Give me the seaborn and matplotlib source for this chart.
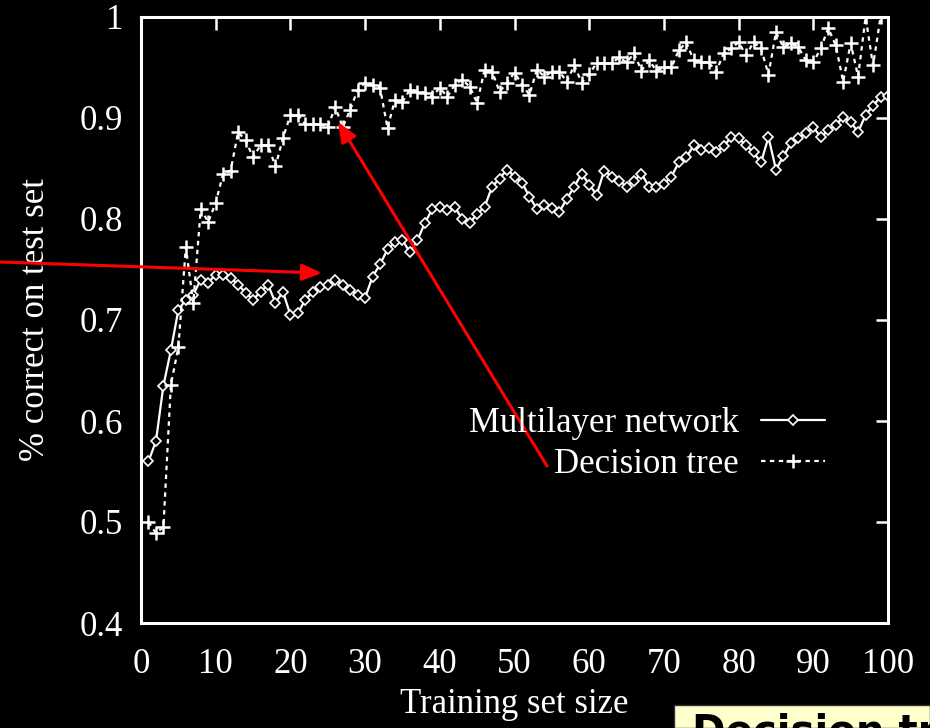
import numpy as np
import pandas as pd
import matplotlib
matplotlib.use("Agg")
import matplotlib.pyplot as plt
from matplotlib.patches import Rectangle
import seaborn as sns

# ---- data ----
sizes = list(range(1, 101))
mlp = [0.56, 0.58, 0.635, 0.67, 0.71, 0.72, 0.725, 0.74, 0.737, 0.745,
       0.745, 0.742, 0.735, 0.727, 0.72, 0.728, 0.735, 0.717, 0.728, 0.705,
       0.707, 0.72, 0.728, 0.733, 0.735, 0.74, 0.735, 0.73, 0.725, 0.722,
       0.743, 0.755, 0.77, 0.777, 0.779, 0.767, 0.779, 0.796, 0.81, 0.812,
       0.809, 0.812, 0.80, 0.796, 0.805, 0.812, 0.832, 0.84, 0.849, 0.842,
       0.836, 0.822, 0.81, 0.814, 0.811, 0.807, 0.82, 0.832, 0.845, 0.834,
       0.824, 0.848, 0.842, 0.838, 0.832, 0.838, 0.845, 0.832, 0.832, 0.835,
       0.842, 0.856, 0.861, 0.873, 0.868, 0.87, 0.866, 0.872, 0.881, 0.88,
       0.873, 0.866, 0.856, 0.881, 0.849, 0.862, 0.875, 0.88, 0.885, 0.891,
       0.881, 0.888, 0.893, 0.901, 0.896, 0.886, 0.903, 0.912, 0.921, 0.922]
tree = [0.50, 0.489, 0.495, 0.636, 0.673, 0.772, 0.717, 0.81, 0.797, 0.816,
        0.845, 0.848, 0.886, 0.878, 0.861, 0.873, 0.873, 0.852, 0.88, 0.903,
        0.903, 0.894, 0.894, 0.894, 0.891, 0.911, 0.891, 0.908, 0.928, 0.935,
        0.933, 0.93, 0.89, 0.918, 0.916, 0.928, 0.926, 0.925, 0.921, 0.93,
        0.921, 0.933, 0.938, 0.931, 0.915, 0.948, 0.946, 0.926, 0.935, 0.945,
        0.933, 0.923, 0.948, 0.941, 0.946, 0.946, 0.936, 0.952, 0.935, 0.944,
        0.954, 0.954, 0.954, 0.96, 0.955, 0.964, 0.947, 0.957, 0.947, 0.95,
        0.95, 0.967, 0.975, 0.957, 0.955, 0.955, 0.946, 0.964, 0.969, 0.975,
        0.962, 0.975, 0.969, 0.943, 0.985, 0.970, 0.974, 0.97, 0.957, 0.955,
        0.969, 0.989, 0.972, 0.936, 0.974, 0.941, 1.0, 0.952, 1.0, np.nan]
series_names = ["Multilayer network", "Decision tree"]
x_ticks = [0, 10, 20, 30, 40, 50, 60, 70, 80, 90, 100]
y_ticks = [0.4, 0.5, 0.6, 0.7, 0.8, 0.9, 1.0]
y_tick_labels = ["0.4", "0.5", "0.6", "0.7", "0.8", "0.9", "1"]
x_label = "Training set size"
y_label = "% correct on test set"
box_text = "Decision trees"

df_mlp = pd.DataFrame({"size": sizes, "acc": mlp})
df_tree = pd.DataFrame({"size": sizes, "acc": tree})

sns.set_style("dark")
plt.rcParams["font.family"] = ["Liberation Serif", "DejaVu Serif"]

fig = plt.figure(figsize=(9.3, 7.28), dpi=100, facecolor="black")
ax = fig.add_axes([141 / 930, 1 - 623 / 728, (888 - 141) / 930, (623 - 17) / 728])
ax.set_facecolor("black")

sns.lineplot(data=df_mlp, x="size", y="acc", ax=ax, color="white", lw=1.6,
             marker="D", markersize=5.5, markerfacecolor="black",
             markeredgecolor="white", markeredgewidth=1.2,
             label=series_names[0])
sns.lineplot(data=df_tree, x="size", y="acc", ax=ax, color="white", lw=1.6,
             marker="+", markersize=10, markeredgewidth=1.8,
             dashes=(2, 2), label=series_names[1])

ax.set_xlim(0, 100)
ax.set_ylim(0.4, 1.0)
ax.set_xticks(x_ticks)
ax.set_xticklabels([str(t) for t in x_ticks])
ax.set_yticks(y_ticks)
ax.set_yticklabels(y_tick_labels)
ax.grid(False)
for s in ax.spines.values():
    s.set_color("white")
    s.set_linewidth(2.2)
    s.set_visible(True)
ax.tick_params(axis="both", which="both", direction="in", length=9, width=1.8,
               color="white", labelcolor="white", labelsize=25,
               top=True, right=True)
ax.tick_params(axis="x", pad=18)
ax.tick_params(axis="y", pad=13)
ax.set_xlabel(x_label, color="white", fontsize=25, labelpad=5)
ax.set_ylabel(y_label, color="white", fontsize=25, labelpad=20)

leg = ax.legend(loc="center right", bbox_to_anchor=(0.958, 0.295), frameon=False,
                markerfirst=False, fontsize=25, labelcolor="white",
                handlelength=1.85, handletextpad=0.65, labelspacing=0.22)

# red annotation arrows (figure pixel coordinates)
ax.annotate("", xy=(322, 728 - 273), xycoords="figure pixels",
            xytext=(0, 728 - 262), textcoords="figure pixels",
            arrowprops=dict(arrowstyle="-|>,head_length=1.2,head_width=0.5",
                            color="#ff0000", lw=2.2, shrinkA=0, shrinkB=0),
            annotation_clip=False)
ax.annotate("", xy=(338, 728 - 122), xycoords="figure pixels",
            xytext=(547, 728 - 466), textcoords="figure pixels",
            arrowprops=dict(arrowstyle="-|>,head_length=1.2,head_width=0.5",
                            color="#ff0000", lw=2.2, shrinkA=0, shrinkB=0),
            annotation_clip=False)

# yellow caption box cut off at bottom right (as in the reference)
fig.patches.append(Rectangle((674 / 930, 0), (930 - 674) / 930, 23 / 728,
                             transform=fig.transFigure, facecolor="#ffffcc",
                             edgecolor="#333333", lw=1.0, zorder=5))
fig.text(692 / 930, -16 / 728, box_text, fontsize=29, fontweight="bold",
         color="black", family=["DejaVu Sans"], ha="left", va="baseline",
         zorder=6)

fig.savefig("out.png", dpi=100, facecolor="black")
